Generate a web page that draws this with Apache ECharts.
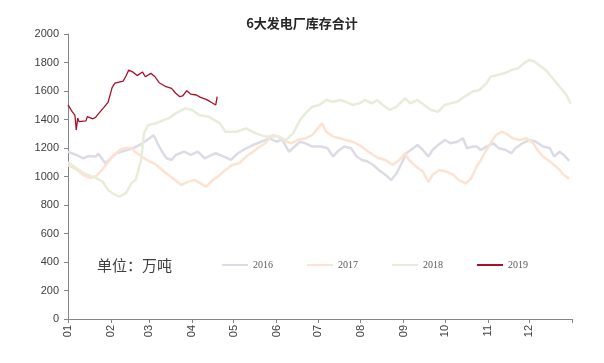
<!DOCTYPE html>
<html>
<head>
<meta charset="utf-8">
<script src="https://cdn.jsdelivr.net/npm/echarts@6/dist/echarts.min.js"></script>
<style>html,body{margin:0;padding:0;background:#fff;}#c{width:604px;height:363px;}</style>
</head>
<body>
<div id="c"></div>
<script>
// Month starts (day of year) and labels
const monthStarts = [0,31,59,90,120,151,181,212,243,273,304,334];
const monthLabels = ['01','02','03','04','05','06','07','08','09','10','11','12'];
const tickDays = [0,31,59,90,120,151,181,212,243,273,304,334,365];
const seriesNames = ['2016','2017','2018','2019'];

const days2016 = [0,6,11,15,20,22,27,35,47,54,60,62,66,71,75,78,84,89,94,99,104,107,113,118,123,129,134,140,146,151,155,160,168,172,177,183,188,192,195,200,205,209,213,217,221,225,230,234,238,241,245,250,253,257,261,264,268,273,277,282,286,289,293,296,299,303,308,312,317,321,324,329,334,339,344,349,352,356,359,363];
const values2016 = [1174,1151,1128,1143,1140,1160,1093,1163,1198,1233,1275,1290,1210,1130,1116,1151,1174,1151,1174,1128,1151,1163,1140,1116,1163,1198,1221,1244,1268,1244,1260,1174,1244,1233,1210,1210,1198,1140,1174,1210,1198,1140,1116,1105,1081,1046,1011,975,1023,1081,1163,1198,1221,1186,1140,1186,1221,1256,1233,1244,1268,1198,1210,1210,1186,1210,1233,1198,1186,1163,1198,1233,1256,1244,1210,1198,1140,1174,1151,1110];

const days2017 = [0,6,11,16,20,25,29,33,38,42,46,49,57,64,71,76,82,87,92,96,100,105,110,114,119,124,129,134,139,143,148,153,158,162,166,172,177,182,184,187,192,197,201,206,211,216,221,225,230,235,240,244,247,252,257,261,264,269,274,279,283,288,292,296,299,303,306,310,314,317,322,327,332,337,340,344,349,352,356,359,363];
const values2017 = [1080,1050,1010,990,1000,1050,1100,1150,1190,1200,1200,1170,1116,1081,1023,988,940,964,975,952,929,975,1011,1046,1081,1093,1140,1174,1210,1233,1291,1280,1244,1233,1256,1268,1291,1350,1373,1314,1280,1268,1256,1244,1221,1186,1151,1128,1116,1081,1116,1163,1116,1070,1035,960,1011,1046,1035,1011,975,952,988,1070,1116,1186,1233,1291,1314,1303,1268,1256,1268,1233,1186,1140,1105,1081,1046,1011,985];

const days2018 = [0,6,11,15,20,25,29,32,37,42,46,49,53,55,58,64,69,73,78,85,90,95,102,110,114,122,129,136,143,151,158,163,168,172,177,182,187,192,197,201,206,211,215,220,224,228,233,238,244,248,253,258,263,268,273,277,282,287,293,298,303,306,311,316,321,326,330,334,338,341,346,351,356,361,364];
const values2018 = [1100,1060,1025,1010,990,965,905,884,858,884,954,977,1116,1303,1361,1373,1396,1408,1443,1478,1467,1432,1420,1373,1314,1314,1338,1303,1280,1280,1256,1303,1396,1443,1490,1502,1537,1525,1537,1525,1502,1513,1537,1513,1537,1502,1467,1490,1549,1513,1537,1502,1467,1455,1502,1513,1525,1560,1596,1607,1654,1700,1712,1724,1747,1759,1794,1818,1806,1782,1747,1689,1630,1572,1510];

const days2019 = [0,3,5,6,7,8,9,13,14,18,20,22,26,29,31,32,34,40,42,44,47,50,54,56,60,63,66,71,75,78,81,83,86,89,93,96,100,103,107,108];
const values2019 = [1502,1455,1430,1326,1410,1385,1390,1390,1420,1405,1415,1440,1485,1520,1590,1625,1655,1670,1705,1747,1733,1708,1733,1700,1724,1700,1658,1630,1619,1584,1560,1565,1602,1578,1572,1555,1541,1525,1502,1560];

const yTicks = [0,200,400,600,800,1000,1200,1400,1600,1800,2000];

function zip(d, v) { return d.map((x, i) => [x, v[i]]); }

const chart = echarts.init(document.getElementById('c'), null, {renderer: 'canvas'});
const lineCommon = {type: 'line', symbol: 'none', smooth: false};
chart.setOption({
  animation: false,
  backgroundColor: '#ffffff',
  title: {
    text: '6大发电厂库存合计', left: 'center', top: 12,
    textStyle: {fontSize: 13, fontWeight: 'bold', color: '#262626', fontFamily: 'Noto Sans CJK SC'}
  },
  grid: {left: 68, right: 32, top: 34, bottom: 44},
  legend: {
    left: 217, top: 255, itemWidth: 26, itemHeight: 2, icon: 'rect', itemGap: 34,
    textStyle: {fontFamily: 'Liberation Serif', fontSize: 10, color: '#595959'},
    data: seriesNames
  },
  graphic: [{
    type: 'text', left: 97, top: 258,
    style: {text: '单位：万吨', font: '15px "Noto Sans CJK SC"', fill: '#404040'}
  }],
  xAxis: {
    type: 'value', min: 0, max: 365,
    axisLine: {lineStyle: {color: '#868686'}},
    axisTick: {customValues: tickDays, length: 4, lineStyle: {color: '#868686'}},
    axisLabel: {
      customValues: monthStarts, rotate: 90, margin: 6,
      formatter: v => monthLabels[monthStarts.indexOf(v)] || '',
      fontSize: 11, color: '#404040', fontFamily: 'Liberation Sans'
    },
    splitLine: {show: false}
  },
  yAxis: {
    type: 'value', min: yTicks[0], max: yTicks[yTicks.length - 1], interval: 200,
    axisLine: {show: true, lineStyle: {color: '#868686'}},
    axisTick: {show: true, length: 4, lineStyle: {color: '#868686'}},
    axisLabel: {fontSize: 11, color: '#404040', margin: 9, fontFamily: 'Liberation Sans', formatter: v => String(v)},
    splitLine: {show: false}
  },
  series: [
    Object.assign({}, lineCommon, {name: seriesNames[0], data: zip(days2016, values2016), color: '#dcdce6', lineStyle: {width: 2.5, color: '#dcdce6'}}),
    Object.assign({}, lineCommon, {name: seriesNames[1], data: zip(days2017, values2017), color: '#fce3d1', lineStyle: {width: 2.5, color: '#fce3d1'}}),
    Object.assign({}, lineCommon, {name: seriesNames[2], data: zip(days2018, values2018), color: '#e8eddb', lineStyle: {width: 2.5, color: '#e8eddb'}}),
    Object.assign({}, lineCommon, {name: seriesNames[3], data: zip(days2019, values2019), color: '#a8102a', lineStyle: {width: 1.3, color: '#a8102a'}})
  ]
});
</script>
</body>
</html>
